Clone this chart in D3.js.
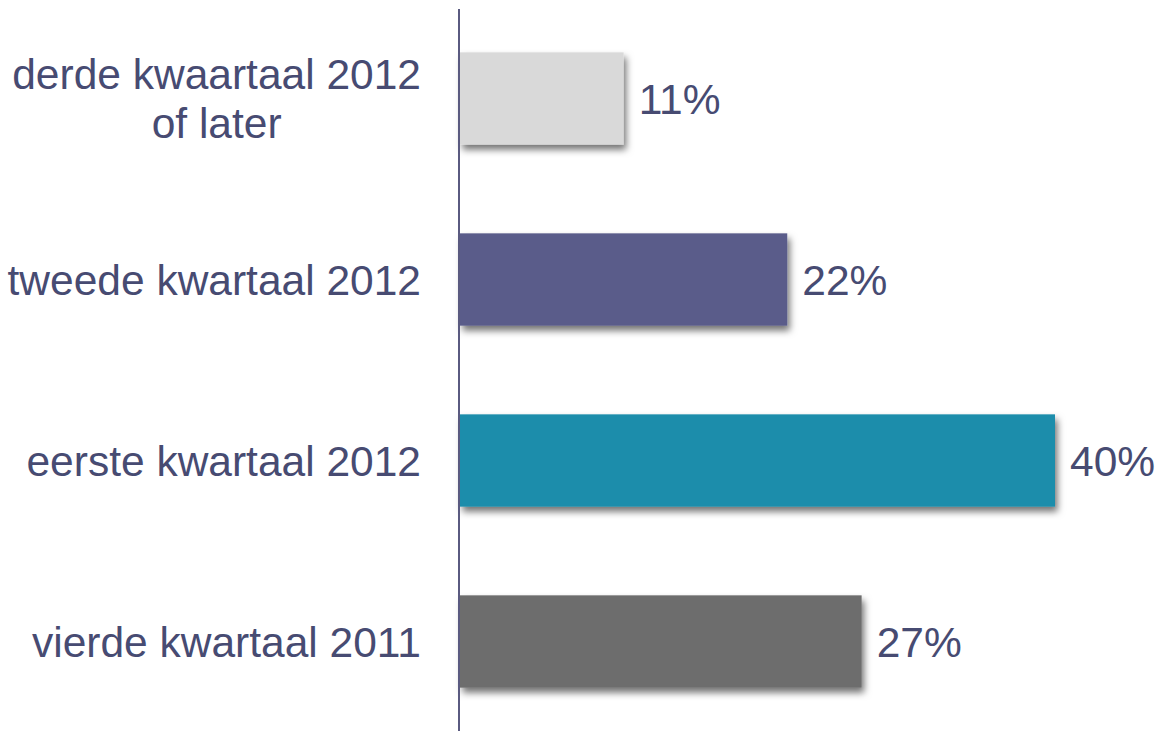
<!DOCTYPE html>
<html>
<head>
<meta charset="utf-8">
<script src="https://cdn.jsdelivr.net/npm/d3@7"></script>
<style>
  html, body { margin: 0; padding: 0; background: #ffffff; }
  svg { display: block; }
  text { font-family: "Liberation Sans", Arial, sans-serif; }
</style>
</head>
<body>
<svg id="chart" width="1167" height="735"></svg>
<script>
// Periods, top to bottom
const categories = [
  ["derde kwaartaal 2012", "of later"],
  ["tweede kwartaal 2012"],
  ["eerste kwartaal 2012"],
  ["vierde kwartaal 2011"]
];
const values = [11, 22, 40, 27];
const colors = ["#d9d9d9", "#5a5b8a", "#1f8dab", "#6d6d6d"];

const W = 1167, H = 735;
const textColor = "#474b72";
const fontSize = 42.5;
const lineHeight = 49;

const svg = d3.select("#chart");

const defs = svg.append("defs");
const shadow = defs.append("filter")
  .attr("id", "barShadow")
  .attr("x", "-5%").attr("y", "-20%")
  .attr("width", "115%").attr("height", "150%");
shadow.append("feDropShadow")
  .attr("dx", 2.5).attr("dy", 5)
  .attr("stdDeviation", 3.5)
  .attr("flood-color", "#000")
  .attr("flood-opacity", 0.55);

const x0 = 460;
const x = d3.scaleLinear().domain([0, 40]).range([x0, 1055]);
const y = d3.scaleBand()
  .domain(d3.range(categories.length))
  .range([8, 732])
  .paddingInner(0.49)
  .paddingOuter(0.245);

// Bars
svg.append("g")
  .selectAll("rect")
  .data(values)
  .join("rect")
  .attr("x", x(0))
  .attr("y", (d, i) => y(i))
  .attr("width", d => x(d) - x(0))
  .attr("height", y.bandwidth())
  .attr("fill", (d, i) => colors[i])
  .attr("filter", "url(#barShadow)");

// Vertical axis line
svg.append("line")
  .attr("x1", 459).attr("x2", 459)
  .attr("y1", 9).attr("y2", 731)
  .attr("stroke", "#5a5a80")
  .attr("stroke-width", 2);

// Value labels
svg.append("g")
  .selectAll("text")
  .data(values)
  .join("text")
  .attr("x", d => x(d) + 15)
  .attr("y", (d, i) => y(i) + y.bandwidth() / 2 + 15)
  .attr("font-size", fontSize)
  .attr("fill", textColor)
  .text(d => d + "%");

// Category labels, right-aligned block, lines centered within it
const labelRight = 421;
categories.forEach((lines, i) => {
  const cy = y(i) + y.bandwidth() / 2;
  const g = svg.append("g");
  const first = cy + 15 - (lines.length - 1) * lineHeight / 2;
  const texts = lines.map((t, k) => g.append("text")
    .attr("y", first + k * lineHeight)
    .attr("font-size", fontSize)
    .attr("fill", textColor)
    .text(t));
  const widths = texts.map(t => t.node().getComputedTextLength());
  const maxW = d3.max(widths);
  const mid = labelRight - maxW / 2;
  texts.forEach(t => t.attr("x", mid).attr("text-anchor", "middle"));
});
</script>
</body>
</html>
